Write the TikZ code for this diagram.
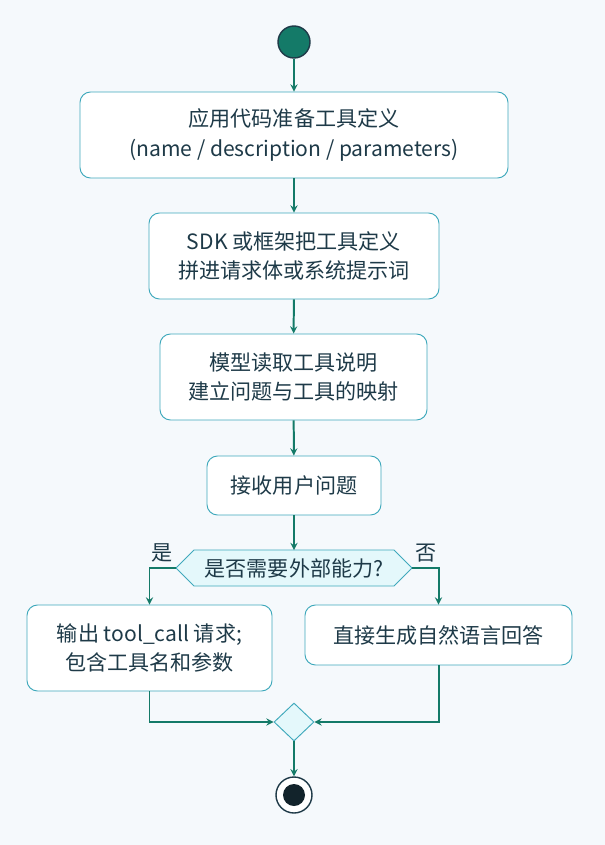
\documentclass[tikz,border=0pt]{standalone}
\usepackage{fontspec}
\setmainfont{Noto Sans CJK SC}
\usetikzlibrary{shapes.geometric,calc}
\definecolor{bgcol}{HTML}{F5F9FC}
\definecolor{boxline}{HTML}{3FA9BC}
\definecolor{flow}{HTML}{147A68}
\definecolor{txt}{HTML}{1E3A48}
\definecolor{decfill}{HTML}{E4F8FB}
\begin{document}
\begin{tikzpicture}[x=0.3mm,y=-0.3mm,>=stealth,line width=1.7pt,
  stepbox/.style={draw=boxline,line width=0.8pt,fill=white,rounded corners=9pt,align=center,
    text=txt,font=\fontsize{18}{25}\selectfont,inner sep=0pt},
  flowline/.style={draw=flow,->},
  lbl/.style={text=txt,font=\fontsize{18}{21}\selectfont,inner sep=0pt}]
\fill[bgcol] (0,0) rectangle (605,845);
\useasboundingbox (0,0) rectangle (605,845);
% 起点
\node[circle,fill=flow,draw=txt,line width=1.2pt,minimum size=9.6mm,inner sep=0pt] (start) at (294,42) {};
% 步骤
\node[stepbox,minimum width=128.4mm,minimum height=25.8mm] (def) at (294,135) {应用代码准备工具定义\\(name / description / parameters)};
\node[stepbox,minimum width=87mm,minimum height=25.8mm] (sdk) at (294,256) {SDK 或框架把工具定义\\拼进请求体或系统提示词};
\node[stepbox,minimum width=80.1mm,minimum height=25.8mm] (read) at (293.5,377) {模型读取工具说明\\建立问题与工具的映射};
\node[stepbox,minimum width=52.2mm,minimum height=17.7mm] (ask) at (294,485.5) {接收用户问题};
% 判断
\draw[draw=boxline,fill=decfill,line width=0.8pt] (176,568) -- (194,550) -- (394,550) -- (412,568) -- (394,586) -- (194,586) -- cycle;
\node[lbl] (dec) at (294,568) {是否需要外部能力?};
\coordinate (decl) at (176,568);
\coordinate (decr) at (412,568);
\coordinate (dect) at (294,550);
\node[stepbox,minimum width=73.5mm,minimum height=25.8mm] (call) at (149.5,648) {输出 tool\_call 请求;\\包含工具名和参数};
\node[stepbox,minimum width=80.1mm,minimum height=18mm] (answer) at (438.5,635) {直接生成自然语言回答};
\node[lbl] (yes) at (162,553) {是};
\node[lbl] (no) at (426,553) {否};
% 合并与终点
\node[diamond,draw=boxline,fill=decfill,line width=0.8pt,minimum width=12mm,minimum height=11.4mm,inner sep=0pt] (merge) at (294,722) {};
\node[circle,draw=txt,line width=1.2pt,fill=white,minimum size=10.8mm,inner sep=0pt] (stop) at (294,795) {};
\node[circle,fill=txt!60!black,minimum size=6.6mm,inner sep=0pt] (stopdot) at (stop) {};
% 连线
\draw[flowline] (start) -- (def);
\draw[flowline] (def) -- (sdk);
\draw[flowline] (sdk) -- (read);
\draw[flowline] (read) -- (ask);
\draw[flowline] (ask) -- (dect);
\draw[flowline] (decl) -| (call.north);
\draw[flowline] (decr) -| (answer.north);
\draw[flowline] (call.south) |- (merge.west);
\draw[flowline] (answer.south) |- (merge.east);
\draw[flowline] (merge) -- (stop);
\end{tikzpicture}
\end{document}
